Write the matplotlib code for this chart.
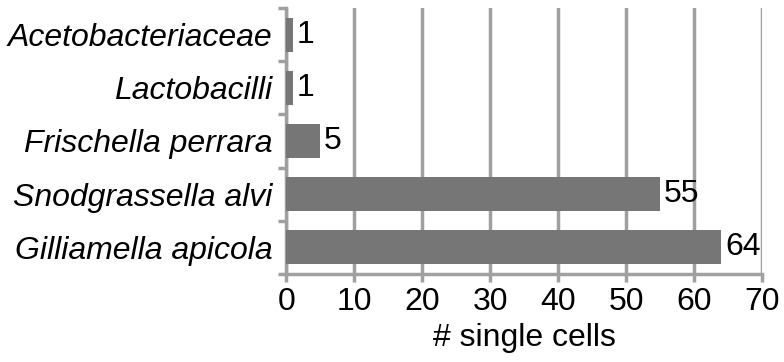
import numpy as np
import matplotlib
matplotlib.use("Agg")
import matplotlib.pyplot as plt

# data (bottom to top)
categories = ["Gilliamella apicola", "Snodgrassella alvi", "Frischella perrara",
              "Lactobacilli", "Acetobacteriaceae"]
counts = [64, 55, 5, 1, 1]
xticks = [0, 10, 20, 30, 40, 50, 60, 70]

plt.rcParams['font.family'] = ['Liberation Sans', 'DejaVu Sans']

GRID = "#a0a0a0"
BAR = "#767676"
FS = 23

fig = plt.figure(figsize=(7.84, 3.62), dpi=100)
ax = fig.add_axes([0.365, 0.243, 0.607, 0.735])

y = np.arange(len(categories))
ax.barh(y, counts, height=0.64, color=BAR, zorder=3)

for yi, c in zip(y, counts):
    ax.text(c + 0.6, yi, str(c), va='center', ha='left', fontsize=FS, color='black', zorder=4)

ax.set_xlim(0, 70)
ax.set_ylim(-0.5, len(categories) - 0.5)
ax.set_xticks(xticks)
ax.set_xticklabels([str(t) for t in xticks], fontsize=FS)
ax.set_yticks(y)
ax.set_yticklabels(categories, fontsize=FS, style='italic')
ax.set_yticks(np.arange(-0.5, len(categories)), minor=True)

ax.tick_params(axis='y', which='major', length=0, pad=10)
ax.tick_params(axis='y', which='minor', length=6, width=2.5, color=GRID, direction='out')
ax.tick_params(axis='x', which='major', length=6, width=2.5, color=GRID, direction='out', pad=3)

ax.xaxis.grid(True, color=GRID, linewidth=2.5, zorder=0)
ax.set_axisbelow(True)
for s in ['top', 'right']:
    ax.spines[s].set_visible(False)
for s in ['left', 'bottom']:
    ax.spines[s].set_color(GRID)
    ax.spines[s].set_linewidth(2.5)

ax.set_xlabel("# single cells", fontsize=FS, labelpad=5)

fig.savefig("out.png", dpi=100)
